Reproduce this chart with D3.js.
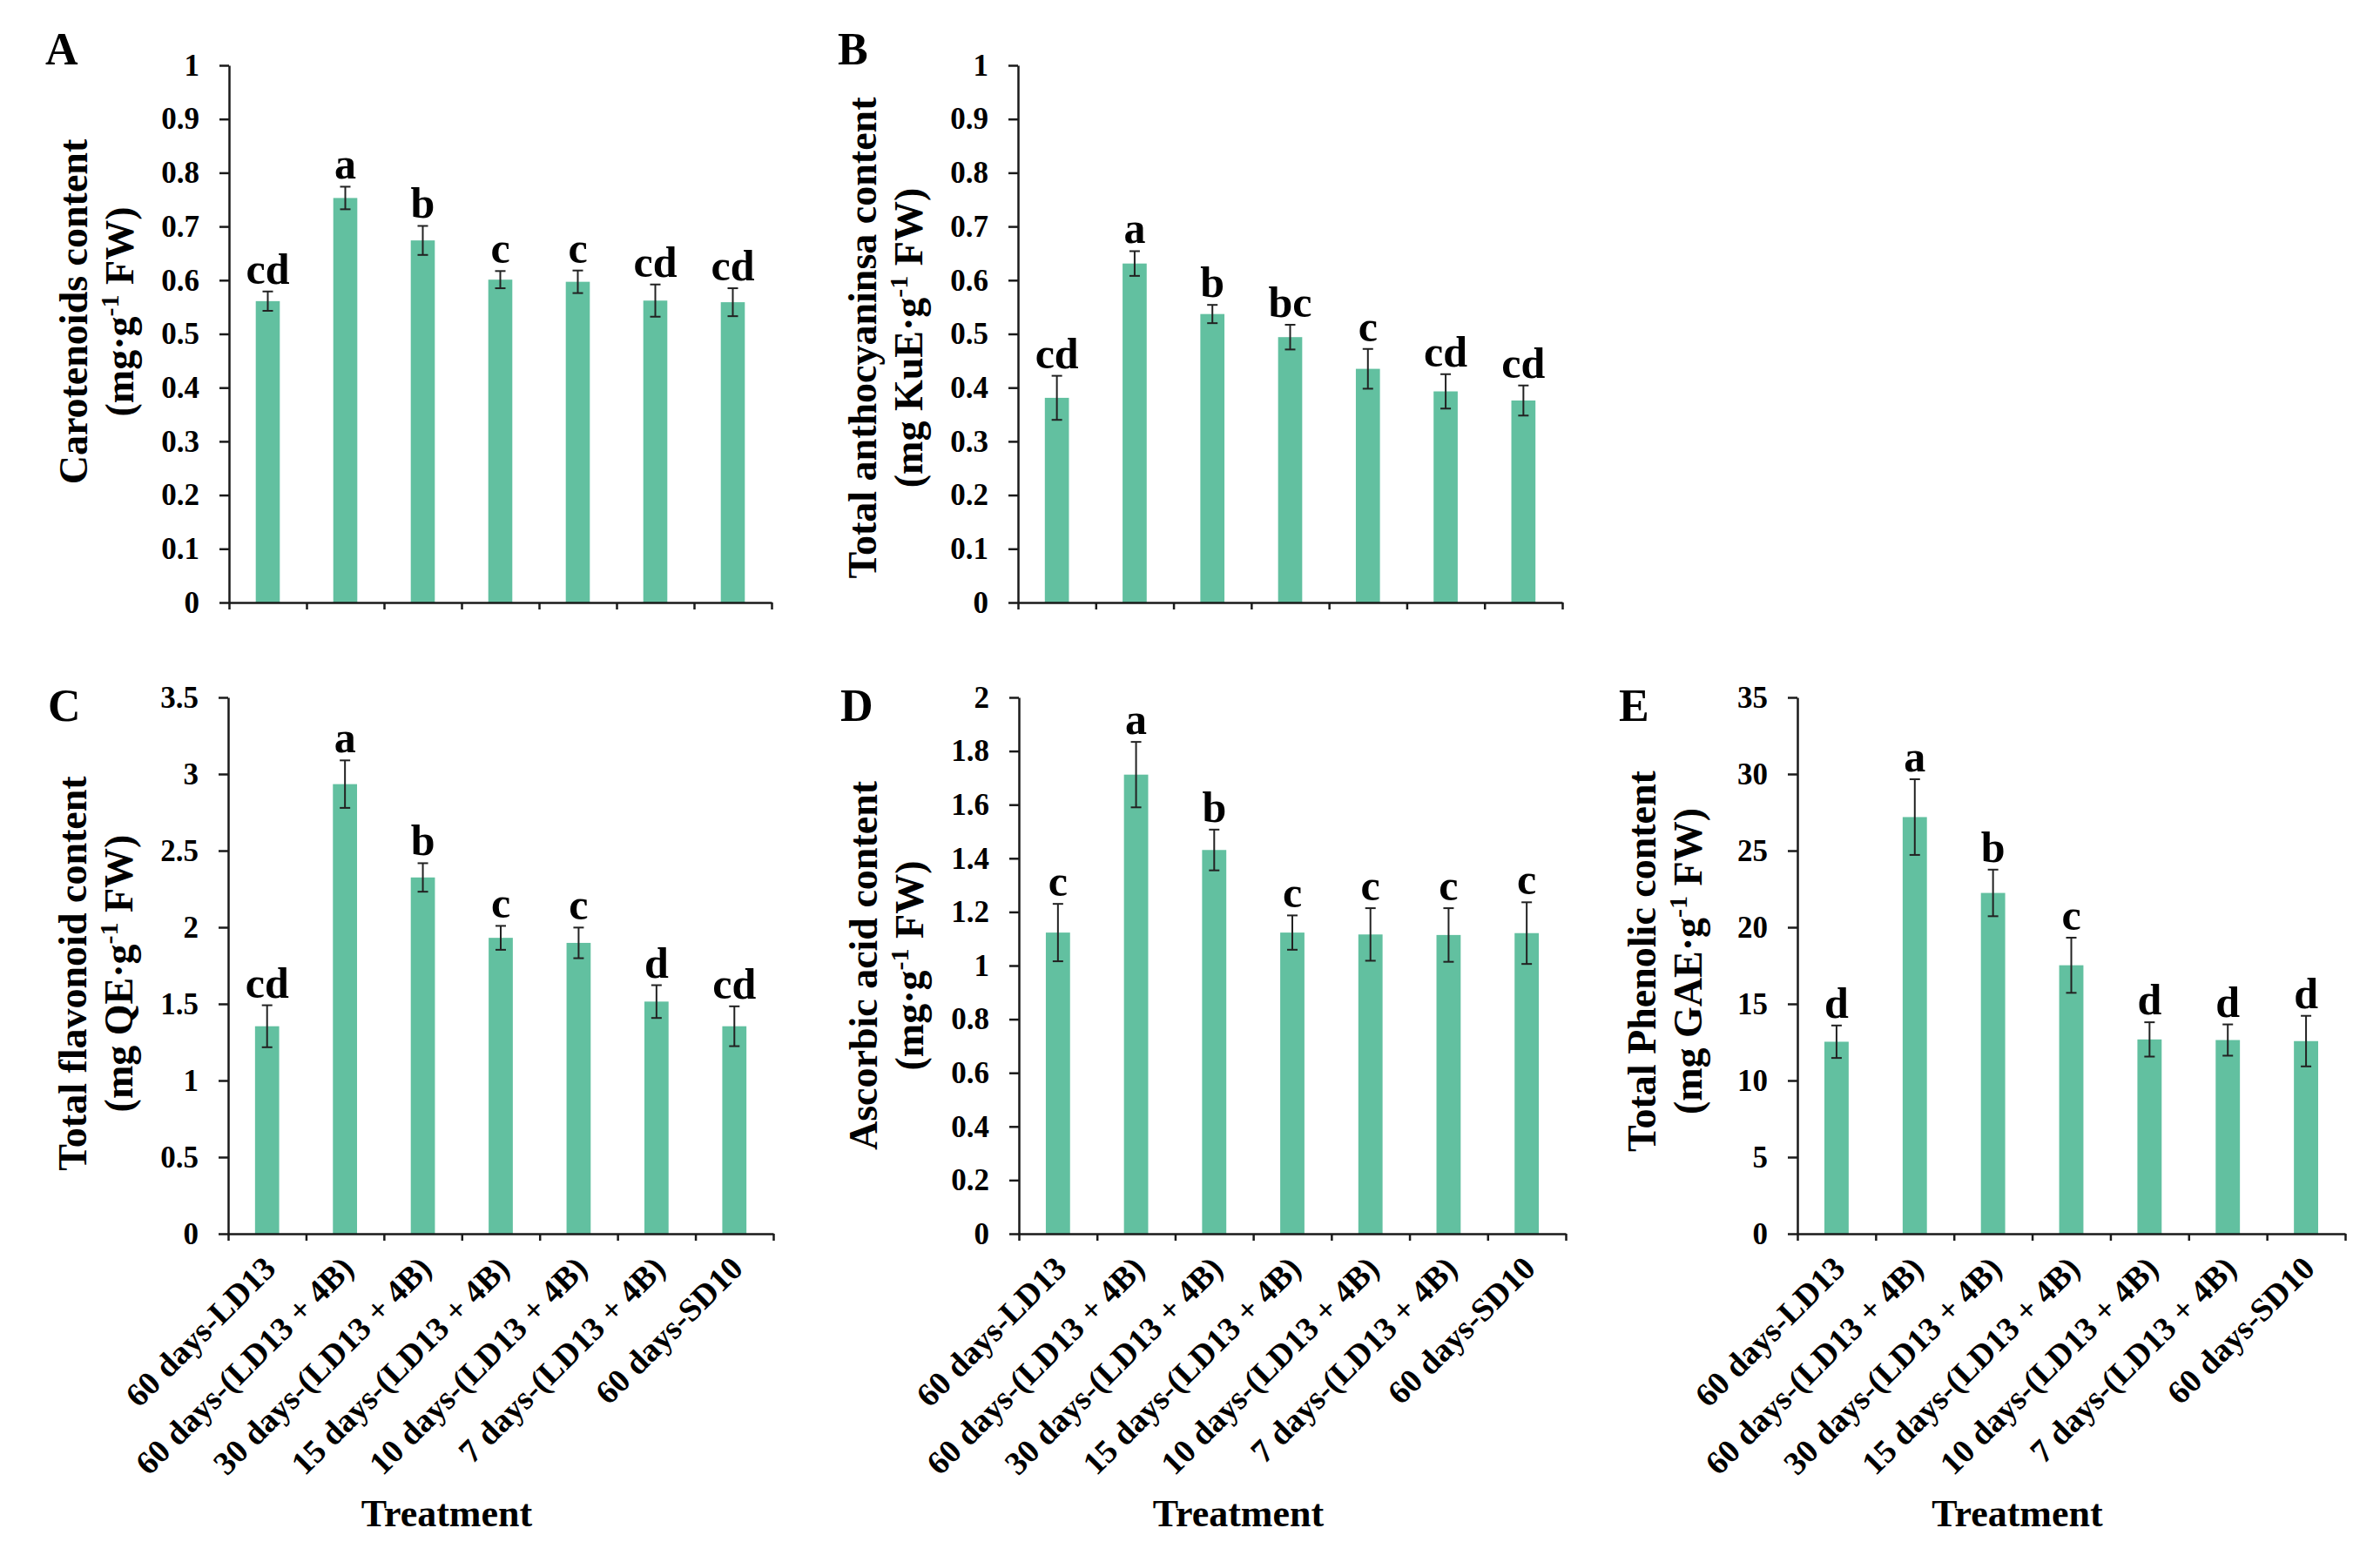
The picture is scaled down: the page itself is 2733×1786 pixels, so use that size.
<!DOCTYPE html>
<html>
<head>
<meta charset="utf-8">
<script src="https://cdn.jsdelivr.net/npm/d3@7"></script>
<style>
  html, body { margin: 0; padding: 0; background: #ffffff; }
  svg { display: block; }
  text { font-family: "Liberation Serif", "Times New Roman", serif; font-weight: bold; fill: #000; }
</style>
</head>
<body>
<svg id="chart" width="2733" height="1786"></svg>
<script>
// ---------------- DATA ----------------
const categories = [
  "60 days-LD13",
  "60 days-(LD13 + 4B)",
  "30 days-(LD13 + 4B)",
  "15 days-(LD13 + 4B)",
  "10 days-(LD13 + 4B)",
  "7 days-(LD13 + 4B)",
  "60 days-SD10"
];

const valuesA  = [0.561, 0.753, 0.674, 0.601, 0.597, 0.562, 0.559];
const errorsA  = [0.018, 0.021, 0.027, 0.016, 0.021, 0.030, 0.026];
const lettersA = ["cd", "a", "b", "c", "c", "cd", "cd"];

const valuesB  = [0.381, 0.631, 0.537, 0.494, 0.435, 0.393, 0.376];
const errorsB  = [0.041, 0.023, 0.017, 0.023, 0.037, 0.032, 0.028];
const lettersB = ["cd", "a", "b", "bc", "c", "cd", "cd"];

const valuesC  = [1.354, 2.934, 2.325, 1.931, 1.898, 1.515, 1.354];
const errorsC  = [0.137, 0.155, 0.093, 0.078, 0.100, 0.107, 0.130];
const lettersC = ["cd", "a", "b", "c", "c", "d", "cd"];

const valuesD  = [1.123, 1.712, 1.431, 1.123, 1.116, 1.114, 1.121];
const errorsD  = [0.107, 0.122, 0.076, 0.064, 0.098, 0.100, 0.115];
const lettersD = ["c", "a", "b", "c", "c", "c", "c"];

const valuesE  = [12.53, 27.19, 22.24, 17.52, 12.68, 12.64, 12.57];
const errorsE  = [1.06, 2.47, 1.52, 1.80, 1.12, 1.02, 1.65];
const lettersE = ["d", "a", "b", "c", "d", "d", "d"];

const ticksA = [0, 0.1, 0.2, 0.3, 0.4, 0.5, 0.6, 0.7, 0.8, 0.9, 1];
const tickLabelsA = ["0", "0.1", "0.2", "0.3", "0.4", "0.5", "0.6", "0.7", "0.8", "0.9", "1"];
const ticksB = ticksA;
const tickLabelsB = tickLabelsA;
const ticksC = [0, 0.5, 1, 1.5, 2, 2.5, 3, 3.5];
const tickLabelsC = ["0", "0.5", "1", "1.5", "2", "2.5", "3", "3.5"];
const ticksD = [0, 0.2, 0.4, 0.6, 0.8, 1, 1.2, 1.4, 1.6, 1.8, 2];
const tickLabelsD = ["0", "0.2", "0.4", "0.6", "0.8", "1", "1.2", "1.4", "1.6", "1.8", "2"];
const ticksE = [0, 5, 10, 15, 20, 25, 30, 35];
const tickLabelsE = ["0", "5", "10", "15", "20", "25", "30", "35"];

const titleA = ["Carotenoids content", "(mg·g", "-1", " FW)"];
const titleB = ["Total anthocyaninsa content", "(mg KuE·g", "-1", " FW)"];
const titleC = ["Total flavonoid content", "(mg QE·g", "-1", " FW)"];
const titleD = ["Ascorbic acid content", "(mg·g", "-1", " FW)"];
const titleE = ["Total Phenolic content", "(mg GAE·g", "-1", " FW)"];

const panelLetters = ["A", "B", "C", "D", "E"];
const xAxisTitle = "Treatment";

// ---------------- LAYOUT (positions/styles) ----------------
const layout = [
  { left: 263,  right: 886,  top: 75,  bottom: 692,  titleY: 358,  letterX: 52,   letterY: 74,  showX: false },
  { left: 1169, right: 1794, top: 75,  bottom: 692,  titleY: 388,  letterX: 962,  letterY: 74,  showX: false },
  { left: 262,  right: 888,  top: 801, bottom: 1417, titleY: 1118, letterX: 55,   letterY: 828, showX: true },
  { left: 1170, right: 1798, top: 801, bottom: 1417, titleY: 1109, letterX: 965,  letterY: 828, showX: true },
  { left: 2064, right: 2693, top: 801, bottom: 1417, titleY: 1104, letterX: 1859, letterY: 828, showX: true }
];

const panelsData = [
  { values: valuesA, errors: errorsA, letters: lettersA, ticks: ticksA, tickLabels: tickLabelsA, title: titleA },
  { values: valuesB, errors: errorsB, letters: lettersB, ticks: ticksB, tickLabels: tickLabelsB, title: titleB },
  { values: valuesC, errors: errorsC, letters: lettersC, ticks: ticksC, tickLabels: tickLabelsC, title: titleC },
  { values: valuesD, errors: errorsD, letters: lettersD, ticks: ticksD, tickLabels: tickLabelsD, title: titleD },
  { values: valuesE, errors: errorsE, letters: lettersE, ticks: ticksE, tickLabels: tickLabelsE, title: titleE }
];

const BAR_COLOR = "#62c0a0";
const AXIS_COLOR = "#1a1a1a";

const svg = d3.select("#chart");
svg.append("rect").attr("width", 2733).attr("height", 1786).attr("fill", "#fff");

panelsData.forEach((pd, i) => {
  const L = layout[i];
  const g = svg.append("g");
  const ticks = pd.ticks;

  const y = d3.scaleLinear()
    .domain([ticks[0], ticks[ticks.length - 1]])
    .range([L.bottom, L.top]);

  const x = d3.scaleBand()
    .domain(categories)
    .range([L.left, L.right])
    .paddingInner(0.69)
    .paddingOuter(0.345);

  const xEdges = d3.scaleLinear().domain([0, categories.length]).range([L.left, L.right]);

  const rows = categories.map((c, k) => ({ c, v: pd.values[k], e: pd.errors[k], l: pd.letters[k] }));

  // bars
  g.selectAll("rect.bar").data(rows).join("rect")
    .attr("class", "bar")
    .attr("x", d => x(d.c))
    .attr("width", x.bandwidth())
    .attr("y", d => y(d.v))
    .attr("height", d => y(0) - y(d.v))
    .attr("fill", BAR_COLOR);

  // error bars
  const cap = 6;
  const eb = g.selectAll("g.err").data(rows).join("g").attr("class", "err")
    .attr("stroke", "#222").attr("stroke-width", 2);
  eb.append("line")
    .attr("x1", d => x(d.c) + x.bandwidth() / 2).attr("x2", d => x(d.c) + x.bandwidth() / 2)
    .attr("y1", d => y(d.v - d.e)).attr("y2", d => y(d.v + d.e));
  eb.append("line")
    .attr("x1", d => x(d.c) + x.bandwidth() / 2 - cap).attr("x2", d => x(d.c) + x.bandwidth() / 2 + cap)
    .attr("y1", d => y(d.v + d.e)).attr("y2", d => y(d.v + d.e));
  eb.append("line")
    .attr("x1", d => x(d.c) + x.bandwidth() / 2 - cap).attr("x2", d => x(d.c) + x.bandwidth() / 2 + cap)
    .attr("y1", d => y(d.v - d.e)).attr("y2", d => y(d.v - d.e));

  // significance letters
  g.selectAll("text.sig").data(rows).join("text")
    .attr("class", "sig")
    .attr("x", d => x(d.c) + x.bandwidth() / 2)
    .attr("y", d => y(d.v + d.e) - 9)
    .attr("text-anchor", "middle")
    .style("font-size", "50px")
    .text(d => d.l);

  // y axis
  const yAxis = d3.axisLeft(y)
    .tickValues(ticks)
    .tickFormat((d, k) => pd.tickLabels[k])
    .tickSize(11)
    .tickSizeOuter(0)
    .tickPadding(23);
  const ya = g.append("g").attr("transform", `translate(${L.left},0)`).call(yAxis);
  ya.selectAll("path").attr("stroke", AXIS_COLOR).attr("stroke-width", 2.5);
  ya.selectAll(".tick line").attr("stroke", AXIS_COLOR).attr("stroke-width", 2.5);
  ya.selectAll(".tick text")
    .style("font-family", "'Liberation Serif', 'Times New Roman', serif")
    .style("font-weight", "bold")
    .style("font-size", "35px")
    .attr("fill", "#000");

  // x axis (boundary ticks)
  const xAxis = d3.axisBottom(xEdges)
    .tickValues(d3.range(categories.length + 1))
    .tickFormat("")
    .tickSize(8)
    .tickSizeOuter(0);
  const xa = g.append("g").attr("transform", `translate(0,${L.bottom})`).call(xAxis);
  xa.selectAll("path").attr("stroke", AXIS_COLOR).attr("stroke-width", 2.5);
  xa.selectAll(".tick line").attr("stroke", AXIS_COLOR).attr("stroke-width", 2.5);

  // x category labels
  if (L.showX) {
    g.selectAll("text.xlab").data(categories).join("text")
      .attr("class", "xlab")
      .attr("text-anchor", "end")
      .attr("transform", d => `translate(${x(d) + x.bandwidth() / 2 + 12},${L.bottom + 42}) rotate(-45)`)
      .style("font-size", "38px")
      .text(d => d);

    g.append("text")
      .attr("x", (L.left + L.right) / 2 - 62)
      .attr("y", 1753)
      .attr("text-anchor", "middle")
      .style("font-size", "44px")
      .text(xAxisTitle);
  }

  // y axis title (two lines)
  g.append("text")
    .attr("transform", `translate(${L.left - 163},${L.titleY}) rotate(-90)`)
    .attr("text-anchor", "middle")
    .style("font-size", "46px")
    .text(pd.title[0]);
  const t2 = g.append("text")
    .attr("transform", `translate(${L.left - 110},${L.titleY}) rotate(-90)`)
    .attr("text-anchor", "middle")
    .style("font-size", "46px");
  t2.append("tspan").text(pd.title[1]);
  t2.append("tspan").attr("dy", -17).style("font-size", "30px").text(pd.title[2]);
  t2.append("tspan").attr("dy", 17).text(pd.title[3]);

  // panel letter
  g.append("text")
    .attr("x", L.letterX)
    .attr("y", L.letterY)
    .style("font-size", "52px")
    .text(panelLetters[i]);
});
</script>
</body>
</html>
